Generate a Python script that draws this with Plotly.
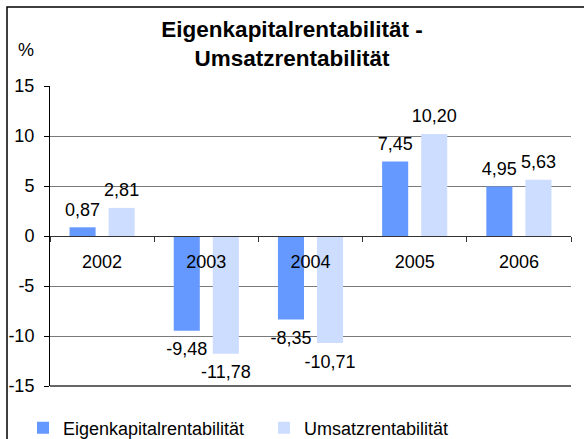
import plotly.graph_objects as go

years = ["2002", "2003", "2004", "2005", "2006"]
eigenkapital = [0.87, -9.48, -8.35, 7.45, 4.95]
umsatz = [2.81, -11.78, -10.71, 10.20, 5.63]
series_names = ["Eigenkapitalrentabilität", "Umsatzrentabilität"]
colors = ["#6699FF", "#CCDDFF"]
y_ticks = [-15, -10, -5, 0, 5, 10, 15]

FONT = "Liberation Sans, Arial, sans-serif"


def de_fmt(v):
    return f"{v:.2f}".replace(".", ",")


fig = go.Figure()
for i, (name, vals, col) in enumerate(zip(series_names, [eigenkapital, umsatz], colors)):
    fig.add_trace(go.Bar(
        x=years, y=vals, name=name, marker=dict(color=col, line=dict(width=0)),
        offsetgroup=str(i), showlegend=True,
    ))
for i, vals in enumerate([eigenkapital, umsatz]):
    fig.add_trace(go.Scatter(
        x=years, y=vals, mode="markers+text", offsetgroup=str(i),
        marker=dict(size=[10 if v >= 0 else 16 for v in vals], opacity=0), hoverinfo="skip",
        text=[de_fmt(v) for v in vals],
        textposition=["top center" if v >= 0 else "bottom center" for v in vals],
        textfont=dict(size=18, color="black", family=FONT),
        showlegend=False, cliponaxis=False,
    ))

L, R, T, B = 50, 13, 86, 53
W, H = 584, 439
pw, ph = W - L - R, H - T - B

fig.update_layout(
    width=W, height=H,
    margin=dict(l=L, r=R, t=T, b=B, autoexpand=False),
    paper_bgcolor="white", plot_bgcolor="white",
    barmode="group", bargap=0.25, bargroupgap=0.333,
    scattermode="group", scattergap=0.25,
    font=dict(family=FONT, size=18, color="black"),
    title=dict(text="<b>Eigenkapitalrentabilität -<br>Umsatzrentabilität</b>",
               x=0.5, xanchor="center", yref="container", y=1 - 37 / H, yanchor="middle",
               font=dict(size=22.5, family=FONT, color="black")),
    showlegend=True,
    legend=dict(orientation="h", x=(23 - L) / pw, xanchor="left", y=-(428 - (H - B)) / ph, yanchor="middle",
                font=dict(size=18, family=FONT), itemwidth=30, traceorder="normal",
                entrywidth=196, entrywidthmode="pixels",
                tracegroupgap=0, bgcolor="rgba(0,0,0,0)"),
)

fig.update_xaxes(
    type="category", anchor="free", position=0.5, automargin=False,
    showline=True, linecolor="#333333", linewidth=1,
    ticks="outside", tickson="boundaries", ticklen=5, tickcolor="#333333",
    showgrid=False, zeroline=False,
    tickfont=dict(size=18, family=FONT), ticklabelstandoff=9,
)
fig.update_yaxes(
    range=[-15, 15], tickvals=y_ticks, ticktext=[str(v) for v in y_ticks],
    automargin=False,
    showgrid=True, gridcolor="#7a7a7a", gridwidth=1,
    zeroline=False,
    showline=True, linecolor="black", linewidth=1,
    ticks="outside", ticklen=5, tickcolor="black",
    tickfont=dict(size=18, family=FONT), ticklabelstandoff=6,
)

# outer frame (left and top edges visible)
fig.add_shape(type="rect", xref="paper", yref="paper",
              x0=(7 - L) / pw, x1=(W + 20 - L) / pw,
              y0=-(B + 20) / ph, y1=1 + (T - 7) / ph,
              line=dict(color="black", width=1.5), fillcolor="rgba(0,0,0,0)", layer="below")
# dark bottom border of plot area
fig.add_shape(type="line", xref="paper", yref="paper", x0=0, x1=1, y0=0, y1=0,
              line=dict(color="#333333", width=1.5))

fig.add_annotation(text="%", xref="paper", yref="paper",
                   x=(26 - L) / pw, y=1 + (T - 50) / ph,
                   showarrow=False, font=dict(size=18, family=FONT), xanchor="center", yanchor="middle")

fig.write_html("out.html", config={"displayModeBar": False},
               post_script="document.body.style.margin='0';")
